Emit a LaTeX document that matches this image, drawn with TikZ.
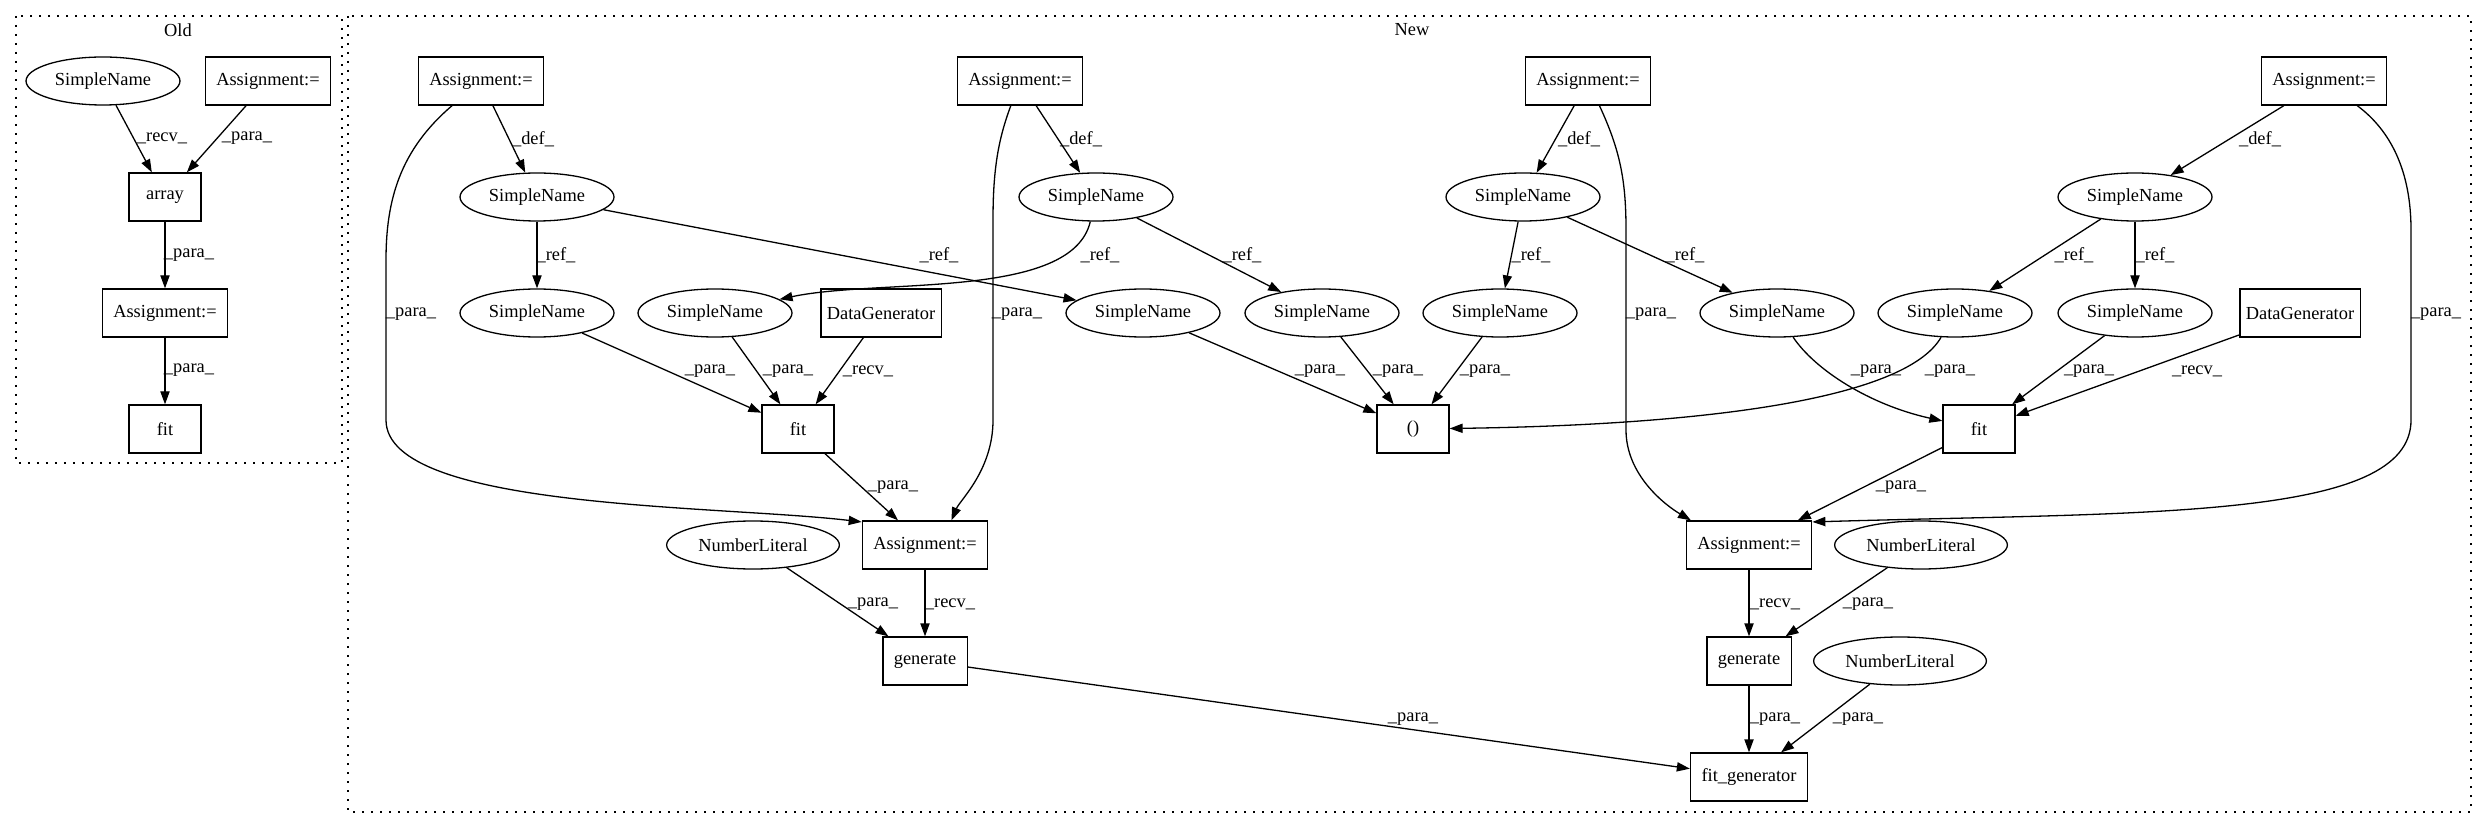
\documentclass[tikz,border=0pt]{standalone}
\usepackage{fontspec}
\setmainfont{Liberation Serif}
\usetikzlibrary{arrows.meta,shapes.geometric}

\begin{document}
\begin{tikzpicture}[x=0.5pt,y=-0.5pt,>={Triangle[length=6.5pt,width=4.6pt]},
  every node/.style={font=\fontsize{9.2}{11}\selectfont},
  box/.style={draw,line width=0.65pt,rectangle,minimum width=36pt,minimum height=24pt,inner xsep=5.5pt},
  oval/.style={draw,line width=0.65pt,ellipse,minimum height=24pt,inner xsep=3.2pt},
  lbl/.style={inner sep=0pt},
  rel/.style={->,line width=0.65pt},
  cluster/.style={line width=0.65pt,dash pattern=on 0.8pt off 3.7pt}]
\useasboundingbox (0,0) rectangle (2488,828);
\draw[cluster] (16,16) rectangle (342,463);
\node (OldTitle) at (178,30) {Old};
\draw[cluster] (348,16) rectangle (2471,812);
\node (NewTitle) at (1412,30) {New};

\node[oval] (OldSN) at (103,81) {SimpleName};
\node[box] (OldAsg) at (268,81) {Assignment:=};
\node[box] (Arr) at (165,197) {array};
\node[box] (OldAsgB) at (165,313) {Assignment:=};
\node[box] (OldFit) at (165,429) {fit};
\draw[rel] (OldSN) -- (Arr) node[lbl] at (162,138) {\_recv\_};
\draw[rel] (OldAsg) -- (Arr) node[lbl] at (247,138) {\_para\_};
\draw[rel] (Arr) -- (OldAsgB) node[lbl] at (189,255) {\_para\_};
\draw[rel] (OldAsgB) -- (OldFit) node[lbl] at (189,370) {\_para\_};

\node[box] (AsgA) at (481,81) {Assignment:=};
\node[box] (AsgB) at (1020,81) {Assignment:=};
\node[box] (AsgC) at (1588,81) {Assignment:=};
\node[box] (AsgD) at (2324,81) {Assignment:=};
\node[oval] (DefA) at (537,197) {SimpleName};
\node[oval] (DefB) at (1096,197) {SimpleName};
\node[oval] (DefC) at (1523,197) {SimpleName};
\node[oval] (DefD) at (2135,197) {SimpleName};
\node[oval] (SNa) at (537,313) {SimpleName};
\node[oval] (SNb) at (715,313) {SimpleName};
\node[box,inner xsep=3pt] (DataGenA) at (881,313) {DataGenerator};
\node[oval] (SNc) at (1143,313) {SimpleName};
\node[oval] (SNd) at (1322,313) {SimpleName};
\node[oval] (SNe) at (1500,313) {SimpleName};
\node[oval] (SNf) at (1777,313) {SimpleName};
\node[oval] (SNg) at (1955,313) {SimpleName};
\node[oval] (SNh) at (2135,313) {SimpleName};
\node[box,inner xsep=3pt] (DataGenB) at (2300,313) {DataGenerator};
\node[box] (FitA) at (798,429) {fit};
\node[box] (Paren) at (1413,429) {()};
\node[box] (FitB) at (1979,429) {fit};
\node[oval] (NumA) at (753,545) {NumberLiteral};
\node[box] (AsgE) at (925,545) {Assignment:=};
\node[box] (AsgF) at (1749,545) {Assignment:=};
\node[oval] (NumB) at (1921,545) {NumberLiteral};
\node[box] (GenE) at (925,661) {generate};
\node[box] (GenF) at (1749,661) {generate};
\node[oval] (NumC) at (1900,661) {NumberLiteral};
\node[box] (FitGen) at (1749,777) {fit\_generator};

\draw[rel] (AsgA) -- (DefA) node[lbl] at (533,139) {\_def\_};
\draw[rel] (AsgB) -- (DefB) node[lbl] at (1081,139) {\_def\_};
\draw[rel] (AsgC) -- (DefC) node[lbl] at (1579,139) {\_def\_};
\draw[rel] (AsgD) -- (DefD) node[lbl] at (2260,139) {\_def\_};
\draw[rel] (DefA) -- (SNa) node[lbl] at (556,255) {\_ref\_};
\draw[rel] (DefA) -- (SNc) node[lbl] at (939,255) {\_ref\_};
\draw[rel] (DefB) .. controls (1072,300) and (880,278) .. (SNb) node[lbl] at (1100,255) {\_ref\_};
\draw[rel] (DefB) -- (SNd) node[lbl] at (1242,255) {\_ref\_};
\draw[rel] (DefC) -- (SNe) node[lbl] at (1531,255) {\_ref\_};
\draw[rel] (DefC) -- (SNf) node[lbl] at (1685,255) {\_ref\_};
\draw[rel] (DefD) -- (SNg) node[lbl] at (2074,255) {\_ref\_};
\draw[rel] (DefD) -- (SNh) node[lbl] at (2155,255) {\_ref\_};

\draw[rel] (SNa) -- (FitA) node[lbl] at (710,371) {\_para\_};
\draw[rel] (SNb) -- (FitA) node[lbl] at (788,371) {\_para\_};
\draw[rel] (DataGenA) -- (FitA) node[lbl] at (868,371) {\_recv\_};
\draw[rel] (SNc) -- (Paren) node[lbl] at (1320,371) {\_para\_};
\draw[rel] (SNd) -- (Paren) node[lbl] at (1398,371) {\_para\_};
\draw[rel] (SNe) -- (Paren) node[lbl] at (1485,371) {\_para\_};
\draw[rel] (SNg) .. controls (1905,400) and (1700,425) .. (Paren) node[lbl] at (1950,371) {\_para\_};
\draw[rel] (SNf) .. controls (1815,370) and (1870,405) .. (FitB) node[lbl] at (1876,371) {\_para\_};
\draw[rel] (SNh) -- (FitB) node[lbl] at (2089,371) {\_para\_};
\draw[rel] (DataGenB) -- (FitB) node[lbl] at (2197,371) {\_recv\_};

\draw[rel] (FitA) -- (AsgE) node[lbl] at (893,487) {\_para\_};
\draw[rel] (AsgA) .. controls (400,150) and (386,200) .. (386,260) -- (386,420) .. controls (386,510) and (720,505) .. (AsgE.160) node[lbl] at (411,314) {\_para\_};
\draw[rel] (AsgB) .. controls (998,140) and (993,170) .. (993,220) -- (993,420) .. controls (993,470) and (960,500) .. (AsgE.43) node[lbl] at (1017,314) {\_para\_};
\draw[rel] (FitB) -- (AsgF) node[lbl] at (1901,487) {\_para\_};
\draw[rel] (AsgC) .. controls (1620,150) and (1626,180) .. (1626,230) -- (1626,430) .. controls (1626,475) and (1665,505) .. (AsgF.157) node[lbl] at (1651,314) {\_para\_};
\draw[rel] (AsgD) .. controls (2390,130) and (2411,170) .. (2411,230) -- (2411,420) .. controls (2411,520) and (2150,512) .. (AsgF.20) node[lbl] at (2436,314) {\_para\_};

\draw[rel] (AsgE) -- (GenE) node[lbl] at (950,604) {\_recv\_};
\draw[rel] (NumA) -- (GenE) node[lbl] at (873,604) {\_para\_};
\draw[rel] (AsgF) -- (GenF) node[lbl] at (1775,604) {\_recv\_};
\draw[rel] (NumB) -- (GenF) node[lbl] at (1868,604) {\_para\_};
\draw[rel] (GenE) -- (FitGen) node[lbl] at (1413,719) {\_para\_};
\draw[rel] (GenF) -- (FitGen) node[lbl] at (1775,719) {\_para\_};
\draw[rel] (NumC) -- (FitGen) node[lbl] at (1858,719) {\_para\_};
\end{tikzpicture}
\end{document}
